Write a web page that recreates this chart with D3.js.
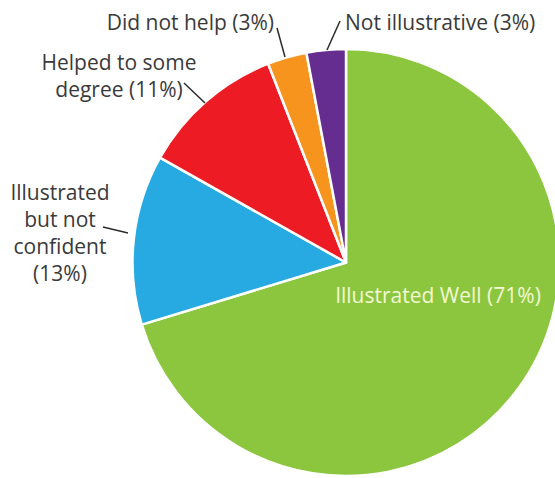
<!DOCTYPE html>
<html>
<head>
<meta charset="utf-8">
<script src="https://cdn.jsdelivr.net/npm/d3@7"></script>
<style>
  html, body { margin: 0; padding: 0; background: #fff; }
  svg { display: block; }
  text { font-family: "Open Sans", "Lato", sans-serif; }
</style>
</head>
<body>
<svg id="chart" width="555" height="478"></svg>
<script>
const categories = ["Illustrated Well", "Illustrated but not confident", "Helped to some degree", "Did not help", "Not illustrative"];
const values = [71, 13, 11, 3, 3];
const labelLines = [
  ["Illustrated Well (71%)"],
  ["Illustrated", "but not", "confident", "(13%)"],
  ["Helped to some", "degree (11%)"],
  ["Did not help (3%)"],
  ["Not illustrative (3%)"]
];
const colors = ["#8cc63f", "#27aae1", "#ed1c24", "#f7941d", "#662d91"];

const W = 555, H = 478;
const cx = 346, cy = 262.5, R = 213.5;
const svg = d3.select("#chart");

const pie = d3.pie().sort(null).value(d => d)(values);
const arc = d3.arc().innerRadius(0).outerRadius(R);

const g = svg.append("g").attr("transform", `translate(${cx},${cy})`);
g.selectAll("path").data(pie).join("path")
  .attr("d", arc)
  .attr("fill", (d, i) => colors[i])
  .attr("stroke", "#fff")
  .attr("stroke-width", 2.5)
  .attr("stroke-linejoin", "round");

// label layout (page coords)
const labelLayout = [
  { x: 438, y: 303, anchor: "middle", fill: "#f3f8d2", lh: 27, line: null },
  { x: 60, y: 200, anchor: "middle", fill: "#3a3a3a", lh: 27, line: [[103, 227], [128, 233]] },
  { x: 119, y: 70, anchor: "middle", fill: "#3a3a3a", lh: 27, line: [[184, 83], [205, 103]] },
  { x: 274, y: 30, anchor: "end", fill: "#3a3a3a", lh: 24, line: [[277, 28], [285, 57]] },
  { x: 345, y: 30, anchor: "start", fill: "#3a3a3a", lh: 24, line: [[340, 21], [327, 50]] }
];

labelLayout.forEach((L, i) => {
  if (L.line) {
    svg.append("line")
      .attr("x1", L.line[0][0]).attr("y1", L.line[0][1])
      .attr("x2", L.line[1][0]).attr("y2", L.line[1][1])
      .attr("stroke", "#2b2b2b").attr("stroke-width", 1.5);
  }
  const t = svg.append("text")
    .attr("x", L.x).attr("y", L.y)
    .attr("text-anchor", L.anchor)
    .attr("fill", L.fill)
    .attr("font-size", 21);
  labelLines[i].forEach((s, j) => {
    t.append("tspan").attr("x", L.x).attr("dy", j === 0 ? 0 : L.lh).text(s);
  });
});
</script>
</body>
</html>
